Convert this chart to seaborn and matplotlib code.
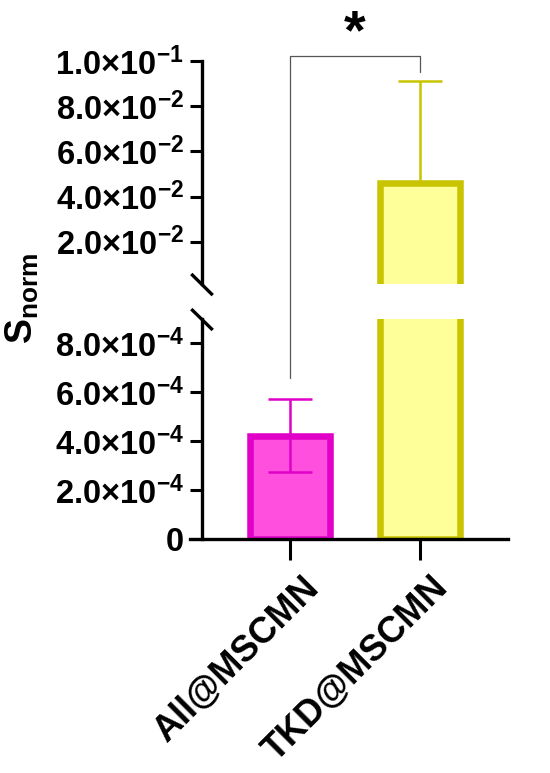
import matplotlib
matplotlib.use("Agg")
import matplotlib.pyplot as plt
import matplotlib.transforms as mtransforms
import seaborn as sns
import numpy as np
from matplotlib.lines import Line2D

categories = ["All@MSCMN", "TKD@MSCMN"]
means = [4.22e-4, 0.046]
err_lower = [1.49e-4, 0.0]
err_upper = [1.49e-4, 0.045]
fill_colors = ["#FF4FDF", "#FFFF99"]
edge_colors = ["#E000C8", "#C8C400"]
top_ticks = [0.02, 0.04, 0.06, 0.08, 0.10]
top_labels = [r"$\mathbf{2.0{\times}10^{-2}}$", r"$\mathbf{4.0{\times}10^{-2}}$",
              r"$\mathbf{6.0{\times}10^{-2}}$", r"$\mathbf{8.0{\times}10^{-2}}$",
              r"$\mathbf{1.0{\times}10^{-1}}$"]
bot_ticks = [0, 2e-4, 4e-4, 6e-4, 8e-4]
bot_labels = [r"$\mathbf{0}$", r"$\mathbf{2.0{\times}10^{-4}}$", r"$\mathbf{4.0{\times}10^{-4}}$",
              r"$\mathbf{6.0{\times}10^{-4}}$", r"$\mathbf{8.0{\times}10^{-4}}$"]
sig_text = "*"

sns.set_style("ticks")
plt.rcParams['font.family'] = ['Liberation Sans', 'DejaVu Sans']
plt.rcParams['mathtext.fontset'] = 'custom'
plt.rcParams['mathtext.rm'] = 'Liberation Sans:bold'
plt.rcParams['mathtext.bf'] = 'Liberation Sans:bold'
plt.rcParams['mathtext.it'] = 'Liberation Sans:bold'
plt.rcParams['mathtext.default'] = 'bf'
for k in ('text.color', 'axes.labelcolor', 'xtick.color', 'ytick.color', 'axes.edgecolor'):
    plt.rcParams[k] = 'black'

W, H = 550, 773
fig = plt.figure(figsize=(W / 100, H / 100), dpi=100)

def fx(px):
    return px / W

def fy(py):
    return 1 - py / H

left_px, right_px = 202, 508
ax_top = fig.add_axes([fx(left_px), fy(284), fx(right_px - left_px), fy(61) - fy(284)])
ax_bot = fig.add_axes([fx(left_px), fy(539), fx(right_px - left_px), fy(319) - fy(539)])

xlim = (-0.677, 1.677)
bar_w = 0.61
lw_edge = 4.7
top_ylim = (0.0013, 0.1)
bot_ylim = (0, 9.0e-4)

for ax, (lo, hi) in ((ax_top, top_ylim), (ax_bot, bot_ylim)):
    sns.barplot(x=categories, y=means, hue=categories, palette=fill_colors, legend=False,
                width=bar_w, ax=ax, errorbar=None, linewidth=lw_edge, dodge=False,
                saturation=1)
    for p, ec, m in zip(ax.patches, edge_colors, means):
        p.set_edgecolor(ec)
        p.set_linewidth(lw_edge)
        if m < lo:
            p.set_visible(False)
    for i in range(len(categories)):
        if means[i] - err_lower[i] > hi or means[i] + err_upper[i] < lo:
            continue
        ax.errorbar([i], [means[i]], yerr=[[err_lower[i]], [err_upper[i]]], fmt='none',
                    ecolor=edge_colors[i], elinewidth=1.8, capsize=16, capthick=1.8, zorder=5)
    ax.set_xlim(*xlim)
    ax.set_ylim(lo, hi)
    ax.set_xlabel("")
    ax.set_ylabel("")
    for s in ("top", "right"):
        ax.spines[s].set_visible(False)
    ax.spines["left"].set_linewidth(2.4)
    ax.tick_params(axis="y", length=9, width=2.2, pad=4, labelsize=23.5)

ax_top.set_yticks(top_ticks, top_labels)
ax_top.spines["bottom"].set_visible(False)
ax_top.tick_params(axis="x", bottom=False, labelbottom=False)

ax_bot.set_yticks(bot_ticks, bot_labels)
ax_bot.spines["bottom"].set_linewidth(2.4)
ax_bot.spines["bottom"].set_bounds(xlim[0] - 12 / 130, xlim[1])
ax_bot.set_xticks(range(len(categories)))
ax_bot.set_xticklabels(categories, rotation=45, ha="right", rotation_mode="anchor",
                       fontsize=26, fontweight="bold")
ax_bot.tick_params(axis="x", length=15, width=2.2, pad=6)
shift = mtransforms.ScaledTranslation(11 / 100, -2 / 100, fig.dpi_scale_trans)
for lab in ax_bot.get_xticklabels():
    lab.set_transform(lab.get_transform() + shift)

# break marks
ax_top.plot([-0.035, 0.035], [0.045, -0.05], transform=ax_top.transAxes, color="black",
            lw=2.4, clip_on=False, solid_capstyle="butt")
ax_bot.plot([-0.035, 0.035], [1.045, 0.95], transform=ax_bot.transAxes, color="black",
            lw=2.4, clip_on=False, solid_capstyle="butt")

# significance bracket
fig.canvas.draw()
inv = fig.transFigure.inverted()
y_br = 0.1022
pL_top = inv.transform(ax_top.transData.transform((0, y_br)))
pR_top = inv.transform(ax_top.transData.transform((1, y_br)))
pL_bot = inv.transform(ax_bot.transData.transform((0, 6.6e-4)))
pR_bot = inv.transform(ax_top.transData.transform((1, 0.0951)))
fig.add_artist(Line2D([pL_bot[0], pL_top[0], pR_top[0], pR_bot[0]],
                      [pL_bot[1], pL_top[1], pR_top[1], pR_bot[1]],
                      transform=fig.transFigure, color="#555555", lw=0.9))
fig.text((pL_top[0] + pR_top[0]) / 2, fy(8), sig_text, ha="center", va="top",
         fontsize=40, fontweight="bold")

# y label
fig.text(fx(22), fy(298), r"$\mathbf{S_{norm}}$", rotation=90, ha="center", va="center",
         fontsize=27)

fig.savefig("out.png", dpi=100)
